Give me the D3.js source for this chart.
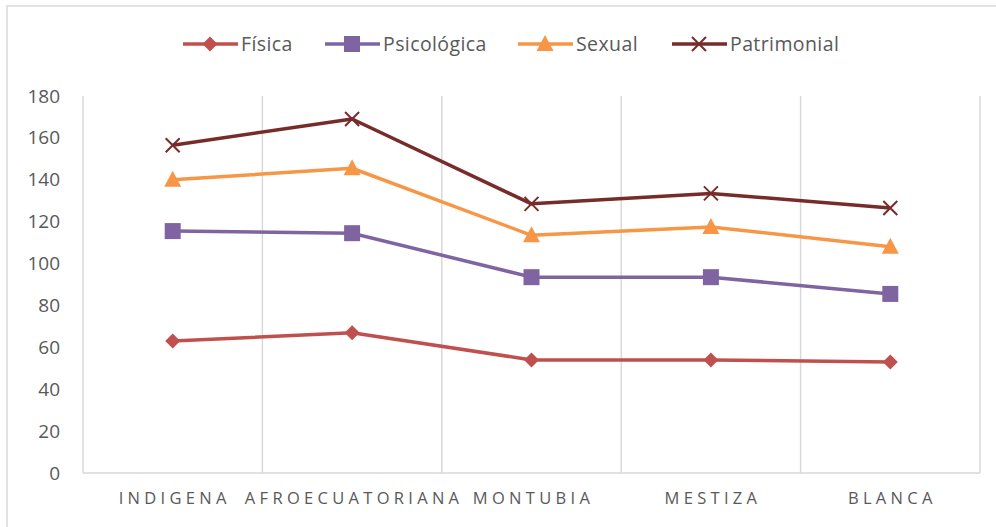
<!DOCTYPE html>
<html>
<head>
<meta charset="utf-8">
<script src="https://cdn.jsdelivr.net/npm/d3@7"></script>
<style>
  body { margin: 0; background: #fff; }
  svg { display: block; font-family: "Open Sans", sans-serif; }
</style>
</head>
<body>
<svg id="chart" width="996" height="527"></svg>
<script>
const categories = ["INDIGENA", "AFROECUATORIANA", "MONTUBIA", "MESTIZA", "BLANCA"];
const fisica = [63, 67, 54, 54, 53];
const psicologica = [115.5, 114.5, 93.5, 93.5, 85.5];
const sexual = [140, 145.5, 113.5, 117.5, 108];
const patrimonial = [156.5, 169, 128.5, 133.5, 126.5];
const seriesNames = ["Física", "Psicológica", "Sexual", "Patrimonial"];
const yTicks = [0, 20, 40, 60, 80, 100, 120, 140, 160, 180];

const series = [
    { name: seriesNames[0], values: fisica, color: "#c0504d", marker: "diamond" },
    { name: seriesNames[1], values: psicologica, color: "#8064a2", marker: "square" },
    { name: seriesNames[2], values: sexual, color: "#f79646", marker: "triangle" },
    { name: seriesNames[3], values: patrimonial, color: "#772c2a", marker: "cross" },
];

const svg = d3.select("#chart");
const margin = { left: 83, right: 16, top: 96, bottom: 54 };
const width = 996, height = 527;

// outer border
svg.append("rect")
    .attr("x", 7).attr("y", 6)
    .attr("width", 1000).attr("height", 530)
    .attr("fill", "none").attr("stroke", "#d9d9d9").attr("stroke-width", 1.5);

const x = d3.scaleBand()
    .domain(categories)
    .range([margin.left, width - margin.right]);

const y = d3.scaleLinear()
    .domain([0, 180])
    .range([height - margin.bottom, margin.top]);

// vertical gridlines at band edges
const g = svg.append("g");
g.selectAll("line.grid")
    .data(categories)
    .enter()
    .append("line")
    .attr("class", "grid")
    .attr("x1", (d) => x(d) + x.bandwidth())
    .attr("x2", (d) => x(d) + x.bandwidth())
    .attr("y1", y(180))
    .attr("y2", y(0))
    .attr("stroke", "#d9d9d9")
    .attr("stroke-width", 1.5);

// axis lines
g.append("line")
    .attr("x1", margin.left).attr("x2", margin.left)
    .attr("y1", y(180)).attr("y2", y(0))
    .attr("stroke", "#d9d9d9").attr("stroke-width", 1.5);
g.append("line")
    .attr("x1", margin.left).attr("x2", width - margin.right)
    .attr("y1", y(0)).attr("y2", y(0))
    .attr("stroke", "#d9d9d9").attr("stroke-width", 1.5);

// y axis labels
const yAxis = d3.axisLeft(y).tickValues(yTicks).tickSize(0).tickPadding(23);
const yg = svg.append("g")
    .attr("transform", "translate(" + margin.left + ",0)")
    .call(yAxis);
yg.select(".domain").remove();
yg.selectAll("text")
    .attr("fill", "#595959")
    .style("font-size", "19px")
    .style("font-family", "'Open Sans', sans-serif");

// x axis labels (letter-spacing adds a trailing gap, so nudge right)
const xAxis = d3.axisBottom(x).tickSize(0).tickPadding(19);
const xg = svg.append("g")
    .attr("transform", "translate(2," + y(0) + ")")
    .call(xAxis);
xg.select(".domain").remove();
xg.selectAll("text")
    .attr("fill", "#595959")
    .style("font-size", "16.5px")
    .style("letter-spacing", "4.3px")
    .style("font-family", "'Open Sans', sans-serif");

function drawMarker(sel, type, color) {
    if (type === "diamond") {
        sel.append("path")
            .attr("d", "M0,-7.5L7.5,0L0,7.5L-7.5,0Z")
            .attr("fill", color);
    } else if (type === "square") {
        sel.append("rect")
            .attr("x", -8).attr("y", -8)
            .attr("width", 16).attr("height", 16)
            .attr("fill", color);
    } else if (type === "triangle") {
        sel.append("path")
            .attr("d", "M0,-9L8.5,7L-8.5,7Z")
            .attr("fill", color);
    } else {
        sel.append("path")
            .attr("d", "M-7,-7L7,7M-7,7L7,-7")
            .attr("stroke", color)
            .attr("stroke-width", 2)
            .attr("fill", "none");
    }
}

const line = d3.line()
    .x((d, i) => x(categories[i]) + x.bandwidth() / 2)
    .y((d) => y(d));

series.forEach((s) => {
    svg.append("path")
        .datum(s.values)
        .attr("d", line)
        .attr("fill", "none")
        .attr("stroke", s.color)
        .attr("stroke-width", 3.5)
        .attr("stroke-linejoin", "round");
    s.values.forEach((v, i) => {
        const m = svg.append("g")
            .attr("transform", "translate(" + (x(categories[i]) + x.bandwidth() / 2) + "," + y(v) + ")");
        drawMarker(m, s.marker, s.color);
    });
});

// legend
const legendX = [183, 325, 518, 672];
series.forEach((s, i) => {
    const lg = svg.append("g").attr("transform", "translate(" + legendX[i] + ",44)");
    lg.append("line")
        .attr("x1", 0).attr("x2", 55)
        .attr("stroke", s.color).attr("stroke-width", 3.5);
    const m = lg.append("g").attr("transform", "translate(27,0)");
    drawMarker(m, s.marker, s.color);
    lg.append("text")
        .attr("x", 58).attr("y", 0)
        .attr("dy", "0.35em")
        .attr("fill", "#595959")
        .style("font-size", "19.5px")
        .style("letter-spacing", "0.4px")
        .text(s.name);
});
</script>
</body>
</html>
